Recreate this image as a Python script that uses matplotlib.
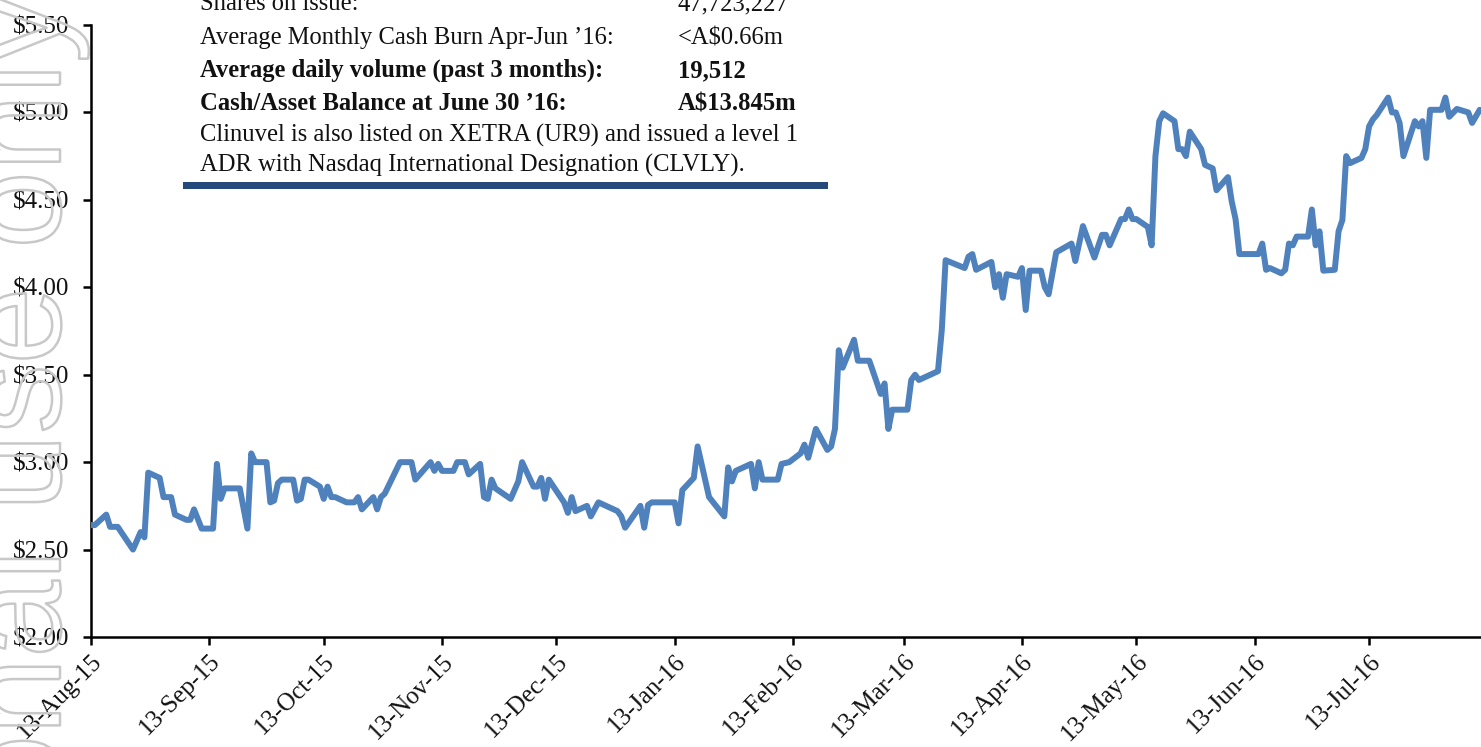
import matplotlib
matplotlib.use("Agg")
import matplotlib.pyplot as plt
import matplotlib.patheffects as pe
from matplotlib.patches import Rectangle
import pandas as pd

# ---------------- data ----------------
dates = [
    "2015-08-13", "2015-08-14", "2015-08-17", "2015-08-18", "2015-08-20", "2015-08-24",
    "2015-08-26", "2015-08-27", "2015-08-28", "2015-08-31", "2015-09-01", "2015-09-03",
    "2015-09-04", "2015-09-07", "2015-09-08", "2015-09-09", "2015-09-11", "2015-09-14",
    "2015-09-15", "2015-09-16", "2015-09-17", "2015-09-21", "2015-09-23", "2015-09-24",
    "2015-09-25", "2015-09-28", "2015-09-29", "2015-09-30", "2015-10-01", "2015-10-02",
    "2015-10-05", "2015-10-06", "2015-10-07", "2015-10-08", "2015-10-09", "2015-10-12",
    "2015-10-13", "2015-10-14", "2015-10-15", "2015-10-16", "2015-10-19", "2015-10-21",
    "2015-10-22", "2015-10-23", "2015-10-26", "2015-10-27", "2015-10-28", "2015-10-29",
    "2015-11-02", "2015-11-05", "2015-11-06", "2015-11-10", "2015-11-11", "2015-11-12",
    "2015-11-13", "2015-11-16", "2015-11-17", "2015-11-19", "2015-11-20", "2015-11-23",
    "2015-11-24", "2015-11-25", "2015-11-26", "2015-11-27", "2015-12-01", "2015-12-03",
    "2015-12-04", "2015-12-07", "2015-12-08", "2015-12-09", "2015-12-10", "2015-12-11",
    "2015-12-15", "2015-12-16", "2015-12-17", "2015-12-18", "2015-12-21", "2015-12-22",
    "2015-12-24", "2015-12-29", "2015-12-30", "2015-12-31", "2016-01-04", "2016-01-05",
    "2016-01-06", "2016-01-07", "2016-01-13", "2016-01-14", "2016-01-15", "2016-01-18",
    "2016-01-19", "2016-01-22", "2016-01-26", "2016-01-27", "2016-01-28", "2016-01-29",
    "2016-02-02", "2016-02-03", "2016-02-04", "2016-02-05", "2016-02-09", "2016-02-10",
    "2016-02-12", "2016-02-15", "2016-02-16", "2016-02-17", "2016-02-19", "2016-02-22",
    "2016-02-23", "2016-02-24", "2016-02-25", "2016-02-26", "2016-02-29", "2016-03-01",
    "2016-03-04", "2016-03-07", "2016-03-08", "2016-03-09", "2016-03-10", "2016-03-14",
    "2016-03-15", "2016-03-16", "2016-03-17", "2016-03-22", "2016-03-23", "2016-03-24",
    "2016-03-29", "2016-03-30", "2016-03-31", "2016-04-01", "2016-04-05", "2016-04-06",
    "2016-04-07", "2016-04-08", "2016-04-09", "2016-04-12", "2016-04-13", "2016-04-14",
    "2016-04-15", "2016-04-18", "2016-04-19", "2016-04-20", "2016-04-22", "2016-04-26",
    "2016-04-27", "2016-04-29", "2016-05-02", "2016-05-04", "2016-05-05", "2016-05-06",
    "2016-05-09", "2016-05-10", "2016-05-11", "2016-05-12", "2016-05-13", "2016-05-16",
    "2016-05-17", "2016-05-18", "2016-05-19", "2016-05-20", "2016-05-23", "2016-05-24",
    "2016-05-25", "2016-05-26", "2016-05-27", "2016-05-30", "2016-05-31", "2016-06-02",
    "2016-06-03", "2016-06-06", "2016-06-07", "2016-06-08", "2016-06-09", "2016-06-14",
    "2016-06-15", "2016-06-16", "2016-06-17", "2016-06-20", "2016-06-21", "2016-06-22",
    "2016-06-23", "2016-06-24", "2016-06-27", "2016-06-28", "2016-06-29", "2016-06-30",
    "2016-07-01", "2016-07-04", "2016-07-05", "2016-07-06", "2016-07-07", "2016-07-08",
    "2016-07-11", "2016-07-12", "2016-07-13", "2016-07-14", "2016-07-15", "2016-07-18",
    "2016-07-19", "2016-07-20", "2016-07-21", "2016-07-22", "2016-07-25", "2016-07-26",
    "2016-07-27", "2016-07-28", "2016-07-29", "2016-08-01", "2016-08-02", "2016-08-03",
    "2016-08-05", "2016-08-08", "2016-08-09", "2016-08-11",
]
prices = [
    2.64, 2.64, 2.70, 2.63, 2.63, 2.50,
    2.60, 2.57, 2.94, 2.91, 2.80, 2.80,
    2.70, 2.67, 2.67, 2.73, 2.62, 2.62,
    2.99, 2.79, 2.85, 2.85, 2.62, 3.05,
    3.00, 3.00, 2.77, 2.78, 2.88, 2.90,
    2.90, 2.78, 2.79, 2.90, 2.90, 2.86,
    2.79, 2.86, 2.80, 2.80, 2.77, 2.77,
    2.80, 2.73, 2.80, 2.73, 2.80, 2.82,
    3.00, 3.00, 2.90, 3.00, 2.95, 2.99,
    2.95, 2.95, 3.00, 3.00, 2.93, 2.99,
    2.80, 2.79, 2.90, 2.85, 2.79, 2.89,
    3.00, 2.86, 2.86, 2.91, 2.79, 2.90,
    2.77, 2.71, 2.80, 2.72, 2.75, 2.69,
    2.77, 2.72, 2.69, 2.625, 2.75, 2.625,
    2.755, 2.77, 2.77, 2.65, 2.84, 2.91,
    3.09, 2.80, 2.69, 2.97, 2.89, 2.95,
    2.99, 2.85, 3.00, 2.90, 2.90, 2.99,
    3.00, 3.05, 3.10, 3.025, 3.19, 3.07,
    3.09, 3.19, 3.64, 3.54, 3.70, 3.58,
    3.58, 3.39, 3.45, 3.19, 3.30, 3.30,
    3.47, 3.50, 3.47, 3.52, 3.755, 4.155,
    4.11, 4.175, 4.19, 4.10, 4.145, 4.00,
    4.075, 3.94, 4.075, 4.06, 4.11, 3.87,
    4.095, 4.095, 4.00, 3.96, 4.20, 4.25,
    4.15, 4.35, 4.17, 4.30, 4.30, 4.24,
    4.39, 4.39, 4.445, 4.39, 4.39, 4.345,
    4.24, 4.75, 4.95, 4.995, 4.95, 4.79,
    4.79, 4.75, 4.89, 4.79, 4.70, 4.68,
    4.555, 4.63, 4.49, 4.39, 4.19, 4.19,
    4.25, 4.10, 4.11, 4.08, 4.10, 4.25,
    4.24, 4.29, 4.29, 4.445, 4.24, 4.32,
    4.095, 4.10, 4.32, 4.385, 4.75, 4.71,
    4.74, 4.79, 4.92, 4.96, 4.985, 5.085,
    5.00, 5.00, 4.94, 4.75, 4.95, 4.92,
    4.95, 4.74, 5.015, 5.015, 5.085, 4.975,
    5.02, 5.00, 4.94, 5.015,
]

xtick_dates = ["2015-08-13", "2015-09-13", "2015-10-13", "2015-11-13", "2015-12-13",
               "2016-01-13", "2016-02-13", "2016-03-13", "2016-04-13", "2016-05-13",
               "2016-06-13", "2016-07-13"]
xtick_labels = ["13-Aug-15", "13-Sep-15", "13-Oct-15", "13-Nov-15", "13-Dec-15",
                "13-Jan-16", "13-Feb-16", "13-Mar-16", "13-Apr-16", "13-May-16",
                "13-Jun-16", "13-Jul-16"]
ytick_values = [2.00, 2.50, 3.00, 3.50, 4.00, 4.50, 5.00, 5.50]
ytick_labels = ["$2.00", "$2.50", "$3.00", "$3.50", "$4.00", "$4.50", "$5.00", "$5.50"]

info_labels = ["Shares on issue:", "Average Monthly Cash Burn Apr-Jun \u201916:",
               "Average daily volume (past 3 months):", "Cash/Asset Balance at June 30 \u201916:"]
info_values = ["47,723,227", "<A$0.66m", "19,512", "A$13.845m"]
info_bold = [False, False, True, True]
note_lines = ["Clinuvel is also listed on XETRA (UR9) and issued a level 1",
              "ADR with Nasdaq International Designation (CLVLY)."]
watermark = "For personal use only"

# ---------------- figure ----------------
W, H = 1481, 747
fig = plt.figure(figsize=(W / 100, H / 100), dpi=100)
fig.patch.set_facecolor("white")

def fx(px):
    return px / W

def fy(py):
    return 1 - py / H

# watermark (behind everything, outline only)
fig.text(fx(60), fy(-6), watermark, rotation=90, rotation_mode="anchor",
         ha="right", va="baseline", fontsize=100, family="Liberation Sans",
         color="none", zorder=0,
         path_effects=[pe.withStroke(linewidth=1.8, foreground="#c8c8c8")])

ax = fig.add_axes([fx(91), fy(637), fx(W - 91), (637 - 25) / H])

x = pd.to_datetime(dates)
ax.plot(x, prices, color="#4F81BD", lw=4.3, solid_joinstyle="round",
        solid_capstyle="round", zorder=3)

ax.set_ylim(2.0, 5.5)
ax.set_xlim(pd.Timestamp("2015-08-13"), pd.Timestamp("2016-08-11 08:00"))
ax.set_yticks(ytick_values)
ax.set_yticklabels(ytick_labels)
ax.set_xticks(pd.to_datetime(xtick_dates))
ax.set_xticklabels(xtick_labels, rotation=45, ha="right", va="top",
                   rotation_mode="anchor")

for s in ["top", "right"]:
    ax.spines[s].set_visible(False)
for s in ["left", "bottom"]:
    ax.spines[s].set_linewidth(1.8)
    ax.spines[s].set_color("black")

ax.tick_params(axis="y", direction="out", length=5.5, width=1.8, pad=10,
               labelsize=18, labelcolor="#111111")
ax.tick_params(axis="x", direction="out", length=5.5, width=1.8, pad=4,
               labelsize=18, labelcolor="#111111")
for lab in ax.get_xticklabels() + ax.get_yticklabels():
    lab.set_fontfamily("Liberation Serif")
ax.set_facecolor("none")

# ---------------- info box ----------------
row_base = [10, 44, 77, 110]
FS = 17.7
for lab, val, b, yb in zip(info_labels, info_values, info_bold, row_base):
    w = "bold" if b else "normal"
    fig.text(fx(200), fy(yb), lab, fontsize=FS, family="Liberation Serif",
             weight=w, va="baseline", ha="left", color="#111111")
    fig.text(fx(678), fy(yb), val, fontsize=FS, family="Liberation Serif",
             weight=w, va="baseline", ha="left", color="#111111")
for line, yb in zip(note_lines, [142, 172]):
    fig.text(fx(200), fy(yb), line, fontsize=FS, family="Liberation Serif",
             va="baseline", ha="left", color="#111111")

fig.patches.append(Rectangle((fx(183), fy(189)), fx(828 - 183), 7 / H,
                             transform=fig.transFigure, facecolor="#244A7C",
                             edgecolor="none"))

fig.savefig("out.png", dpi=100)
